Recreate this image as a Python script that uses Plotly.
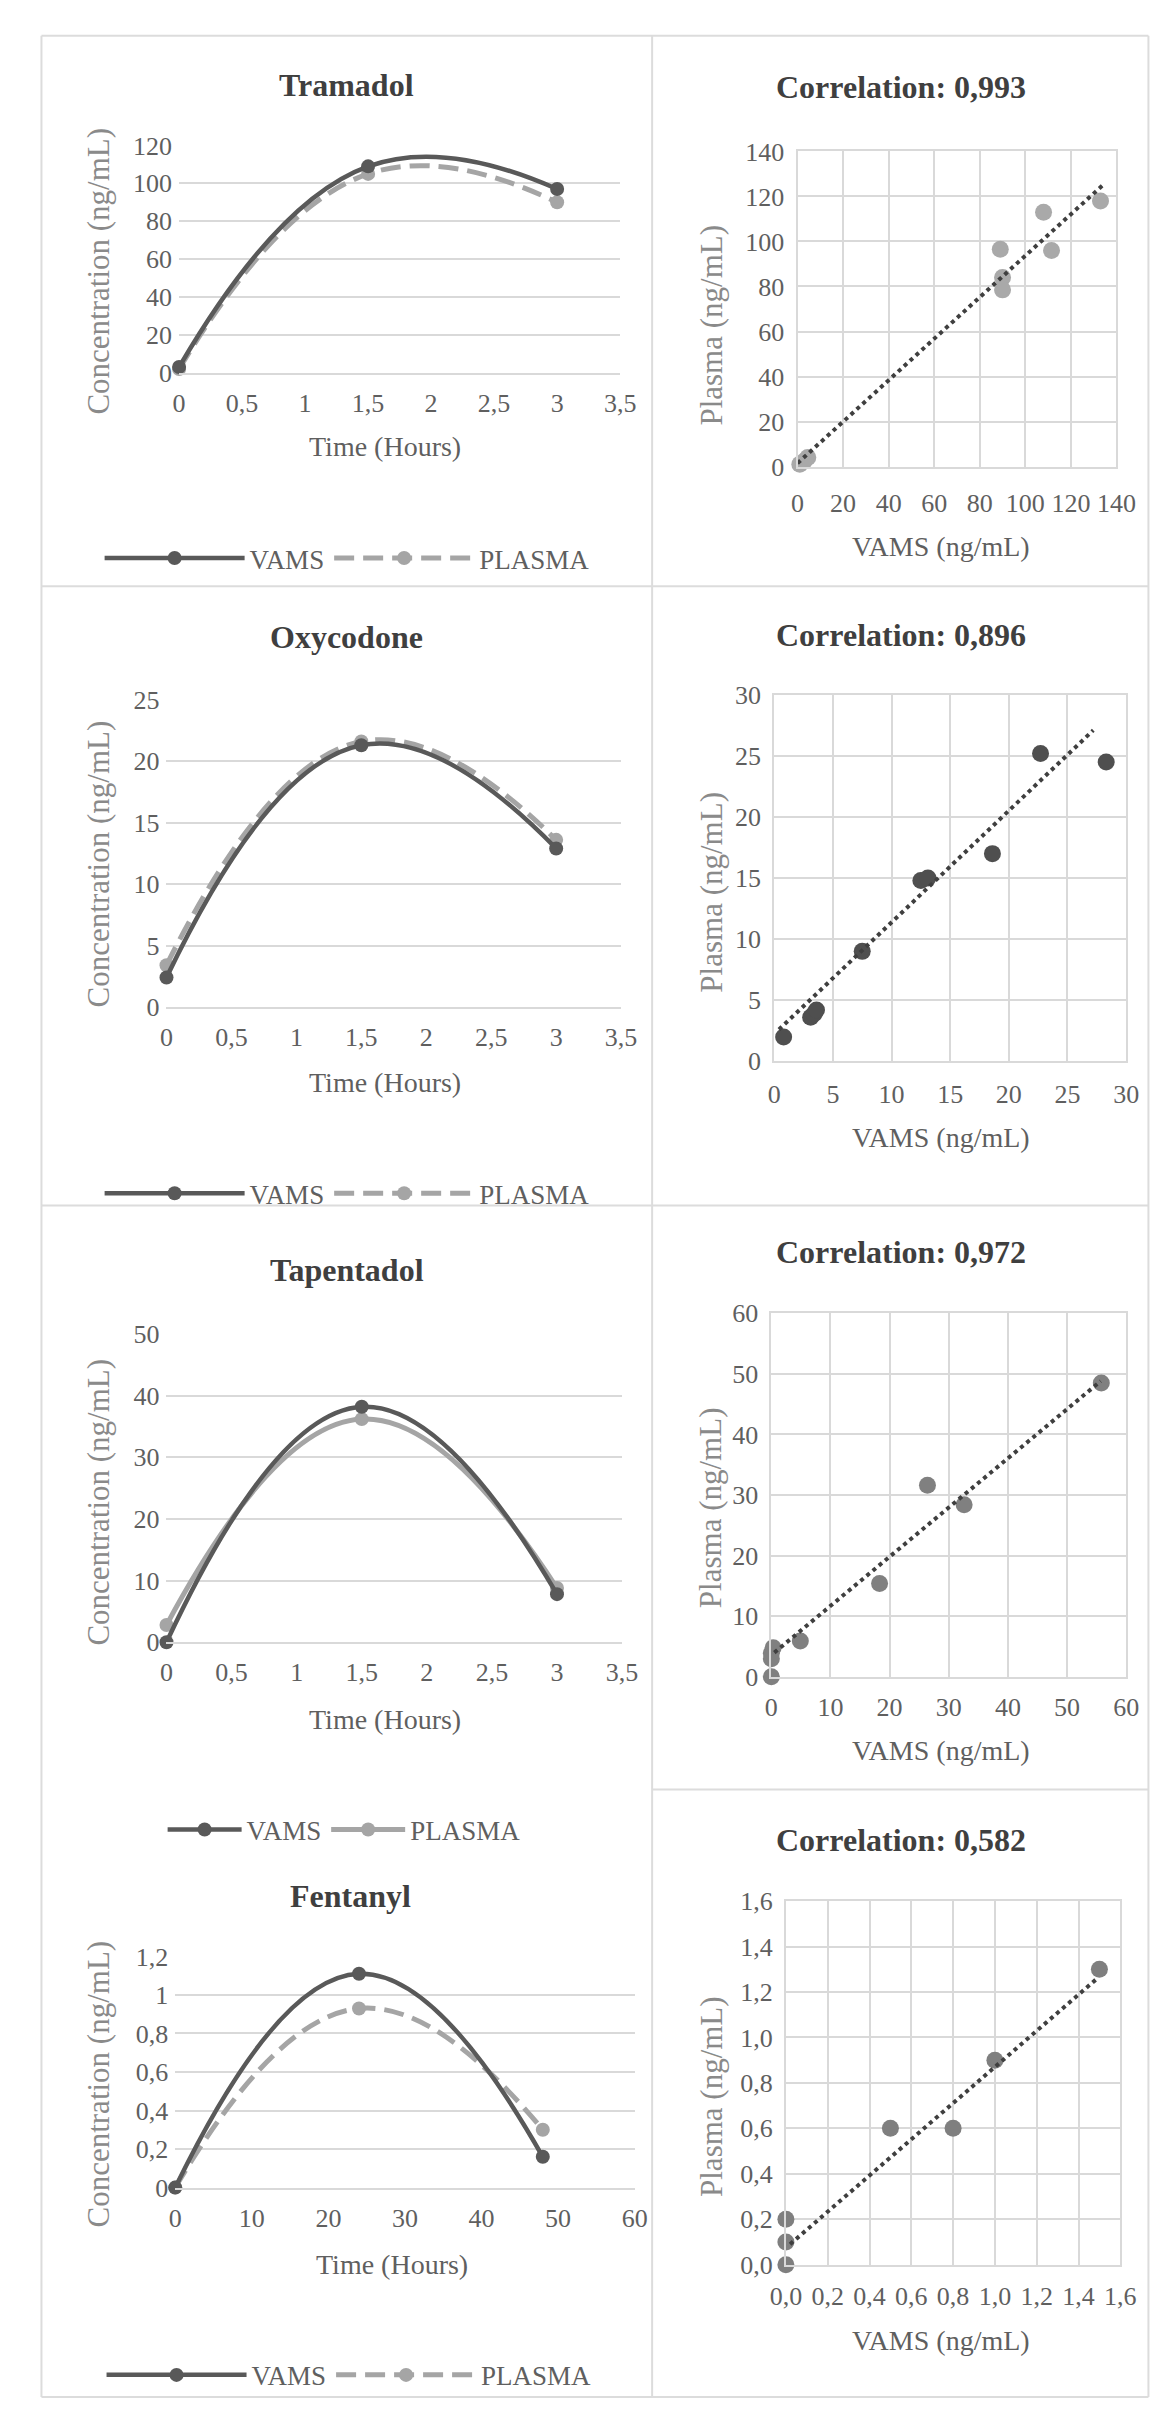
import plotly.graph_objects as go

W, H = 1174, 2409

# ---------------- data ----------------
tram_time = [0, 1.5, 3]
tram_vams = [3, 109, 97]
tram_plasma = [2, 105, 90]

oxy_time = [0, 1.5, 3]
oxy_vams = [2.4, 21.3, 12.9]
oxy_plasma = [3.4, 21.6, 13.6]

tap_time = [0, 1.5, 3]
tap_vams = [0, 38.2, 7.8]
tap_plasma = [2.8, 36.2, 8.8]

fen_time = [0, 24, 48]
fen_vams = [0, 1.11, 0.16]
fen_plasma = [0.0, 0.93, 0.30]

tram_corr_vams = [1.0, 3.0, 4.5, 89, 90, 90, 108, 111.5, 133]
tram_corr_plasma = [1.0, 2.5, 4.0, 96.5, 84, 78.5, 113, 96, 118]
tram_trend_x = [0, 134]
tram_trend_y = [1.5, 125]

oxy_corr_vams = [0.8, 3.1, 3.4, 3.6, 7.5, 12.5, 13.1, 18.6, 22.7, 28.3]
oxy_corr_plasma = [2.0, 3.6, 3.9, 4.2, 9.0, 14.8, 15.0, 17.0, 25.2, 24.5]
oxy_trend_x = [0.4, 27.2]
oxy_trend_y = [2.6, 27.1]

tap_corr_vams = [0, 0, 0, 0.3, 4.9, 18.3, 26.4, 32.6, 55.8]
tap_corr_plasma = [0, 3.0, 3.9, 4.8, 5.9, 15.4, 31.6, 28.4, 48.5]
tap_trend_x = [0.5, 55.7]
tap_trend_y = [4.0, 48.8]

fen_corr_vams = [0, 0, 0, 0.5, 0.8, 1.0, 1.5]
fen_corr_plasma = [0, 0.1, 0.2, 0.6, 0.6, 0.9, 1.3]
fen_trend_x = [0.02, 1.49]
fen_trend_y = [0.09, 1.26]

titles_left = ["Tramadol", "Oxycodone", "Tapentadol", "Fentanyl"]
titles_right = ["Correlation: 0,993", "Correlation: 0,896", "Correlation: 0,972", "Correlation: 0,582"]

# ---------------- style ----------------
FONT = "Liberation Serif"
C_VAMS = "#595959"
C_PLASMA = "#a5a5a5"
GRID = "#d9d9d9"
TICK_C = "#5f5f5f"
TITLE_C = "#3f3f3f"
YT_C = "#8a8a8a"


def fx(px):
    return px / W


def fy(py):
    return 1 - py / H


fig = go.Figure()
layout = dict(
    width=W, height=H, margin=dict(l=0, r=0, t=0, b=0), autosize=False,
    paper_bgcolor="white", plot_bgcolor="white", separators=", ",
    font=dict(family=FONT, color=TICK_C, size=26),
)
annotations = []
shapes = []

panels = [
    dict(kind="time", px=(160, 615), py=(125, 355), xr=[0, 3.5], yr=[0, 120], dx=0.5, dy=20),
    dict(kind="corr", px=(798, 1127), py=(131, 450), xr=[0, 140], yr=[0, 140], dx=20, dy=20, so=12),
    dict(kind="time", px=(147, 616), py=(686, 997), xr=[0, 3.5], yr=[0, 25], dx=0.5, dy=5),
    dict(kind="corr", px=(774, 1137), py=(681, 1052), xr=[0, 30], yr=[0, 30], dx=5, dy=5, so=8),
    dict(kind="time", px=(147, 617), py=(1328, 1640), xr=[0, 3.5], yr=[0, 50], dx=0.5, dy=10),
    dict(kind="corr", px=(771, 1137), py=(1307, 1675), xr=[0, 60], yr=[0, 60], dx=10, dy=10, so=6),
    dict(kind="time", px=(156, 630), py=(1958, 2192), xr=[0, 60], yr=[0, 1.2], dx=10, dy=0.2),
    dict(kind="corr", px=(786, 1131), py=(1902, 2270), xr=[0, 1.6], yr=[0, 1.6], dx=0.2, dy=0.2, so=7, fmt=".1f"),
]

for i, p in enumerate(panels):
    n = "" if i == 0 else str(i + 1)
    xa = dict(
        domain=[fx(p["px"][0]), fx(p["px"][1])], range=p["xr"], dtick=p["dx"], tick0=0,
        anchor="y" + n, ticks="", zeroline=False, fixedrange=True,
        tickfont=dict(size=26, color=TICK_C, family=FONT),
        ticklabelstandoff=p.get("so", 6),
        showline=True, linecolor=GRID, linewidth=2,
    )
    ya = dict(
        domain=[fy(p["py"][1]), fy(p["py"][0])], range=p["yr"], dtick=p["dy"], tick0=0,
        anchor="x" + n, ticks="", zeroline=False, fixedrange=True,
        tickfont=dict(size=26, color=TICK_C, family=FONT),
        ticklabelstandoff=6,
        showgrid=True, gridcolor=GRID, gridwidth=2,
    )
    if p["kind"] == "time":
        xa.update(showgrid=False)
        ya.update(showline=False)
    else:
        xa.update(showgrid=True, gridcolor=GRID, gridwidth=2, mirror=True)
        ya.update(showline=True, linecolor=GRID, linewidth=2, mirror=True)
        if p.get("fmt"):
            xa["tickformat"] = p["fmt"]
            ya["tickformat"] = p["fmt"]
    layout["xaxis" + n] = xa
    layout["yaxis" + n] = ya

# ---------------- time course traces ----------------
time_sets = [
    (tram_time, tram_vams, tram_plasma, 1, "legend", "dash"),
    (oxy_time, oxy_vams, oxy_plasma, 3, "legend2", "dash"),
    (tap_time, tap_vams, tap_plasma, 5, "legend3", "solid"),
    (fen_time, fen_vams, fen_plasma, 7, "legend4", "dash"),
]
for t, v, pl, ax, leg, pdash in time_sets:
    n = "" if ax == 1 else str(ax)
    dash = "20px,9px" if pdash == "dash" else "solid"
    fig.add_trace(go.Scatter(
        x=t, y=pl, name="PLASMA", mode="lines+markers", xaxis="x" + n, yaxis="y" + n,
        line=dict(color=C_PLASMA, width=5, shape="spline", smoothing=1.3, dash=dash),
        marker=dict(color=C_PLASMA, size=14), cliponaxis=False, legend=leg, legendrank=2,
    ))
    fig.add_trace(go.Scatter(
        x=t, y=v, name="VAMS", mode="lines+markers", xaxis="x" + n, yaxis="y" + n,
        line=dict(color=C_VAMS, width=4.5, shape="spline", smoothing=1.3),
        marker=dict(color=C_VAMS, size=14), cliponaxis=False, legend=leg, legendrank=1,
    ))

# ---------------- correlation traces ----------------
corr_sets = [
    (tram_corr_vams, tram_corr_plasma, tram_trend_x, tram_trend_y, 2, "#a9a9a9"),
    (oxy_corr_vams, oxy_corr_plasma, oxy_trend_x, oxy_trend_y, 4, "#4f4f4f"),
    (tap_corr_vams, tap_corr_plasma, tap_trend_x, tap_trend_y, 6, "#808080"),
    (fen_corr_vams, fen_corr_plasma, fen_trend_x, fen_trend_y, 8, "#7f7f7f"),
]
for cx, cy, tx, ty, ax, col in corr_sets:
    n = str(ax)
    fig.add_trace(go.Scatter(
        x=cx, y=cy, mode="markers", xaxis="x" + n, yaxis="y" + n, showlegend=False,
        marker=dict(color=col, size=17), cliponaxis=False,
    ))
    fig.add_trace(go.Scatter(
        x=tx, y=ty, mode="lines", xaxis="x" + n, yaxis="y" + n, showlegend=False,
        line=dict(color="#3f3f3f", width=4, dash="4px,4px"), cliponaxis=False,
    ))

# ---------------- legends ----------------
# (key, left px, center y px, item width)
leg_pos = [
    ("legend", 78, 543, 140),
    ("legend2", 78, 1186, 140),
    ("legend3", 143, 1830, 74),
    ("legend4", 80, 2382, 140),
]
for key, lx, ly, iw in leg_pos:
    layout[key] = dict(
        orientation="h", x=fx(lx), xanchor="left", y=fy(ly), yanchor="middle",
        font=dict(family=FONT, size=27, color=TICK_C), bgcolor="rgba(0,0,0,0)",
        itemwidth=iw, tracegroupgap=0,
    )

# ---------------- text ----------------
def ann(text, x, y, size, color, angle=0, bold=False):
    annotations.append(dict(
        text=("<b>%s</b>" % text) if bold else text, x=fx(x), y=fy(y),
        xref="paper", yref="paper", showarrow=False, xanchor="center", yanchor="middle",
        textangle=angle, font=dict(family=FONT, size=size, color=color),
    ))

left_title_y = [64, 622, 1263, 1897]
left_title_x = [333, 333, 333, 337]
for t, x, y in zip(titles_left, left_title_x, left_title_y):
    ann(t, x, y, 32, TITLE_C, bold=True)
right_title_y = [66, 620, 1245, 1840]
for t, y in zip(titles_right, right_title_y):
    ann(t, 905, y, 32, TITLE_C, bold=True)

for yc in [252, 852, 1498, 2087]:
    ann("Concentration (ng/mL)", 77, yc, 31, YT_C, angle=-90)
for xc, yc in [(372, 430), (372, 1073), (372, 1718), (380, 2270)]:
    ann("Time (Hours)", xc, yc, 28, TICK_C)
for yc in [307, 881, 1504, 2100]:
    ann("Plasma (ng/mL)", 709, yc, 31, YT_C, angle=-90)
for yc in [531, 1129, 1750, 2347]:
    ann("VAMS (ng/mL)", 946, yc, 28, TICK_C)

# ---------------- panel borders ----------------
def line(x0, y0, x1, y1):
    shapes.append(dict(type="line", xref="paper", yref="paper",
                       x0=fx(x0), y0=fy(y0), x1=fx(x1), y1=fy(y1),
                       line=dict(color="#dcdcdc", width=2), layer="below"))

line(18, 14, 1160, 14)
line(18, 14, 18, 2404)
line(648, 14, 648, 2404)
line(1160, 14, 1160, 2404)
line(18, 571, 1160, 571)
line(18, 1198, 1160, 1198)
line(648, 1789, 1160, 1789)
line(18, 2404, 1160, 2404)

layout["annotations"] = annotations
layout["shapes"] = shapes
fig.update_layout(**layout)

fig.write_html("out.html")
